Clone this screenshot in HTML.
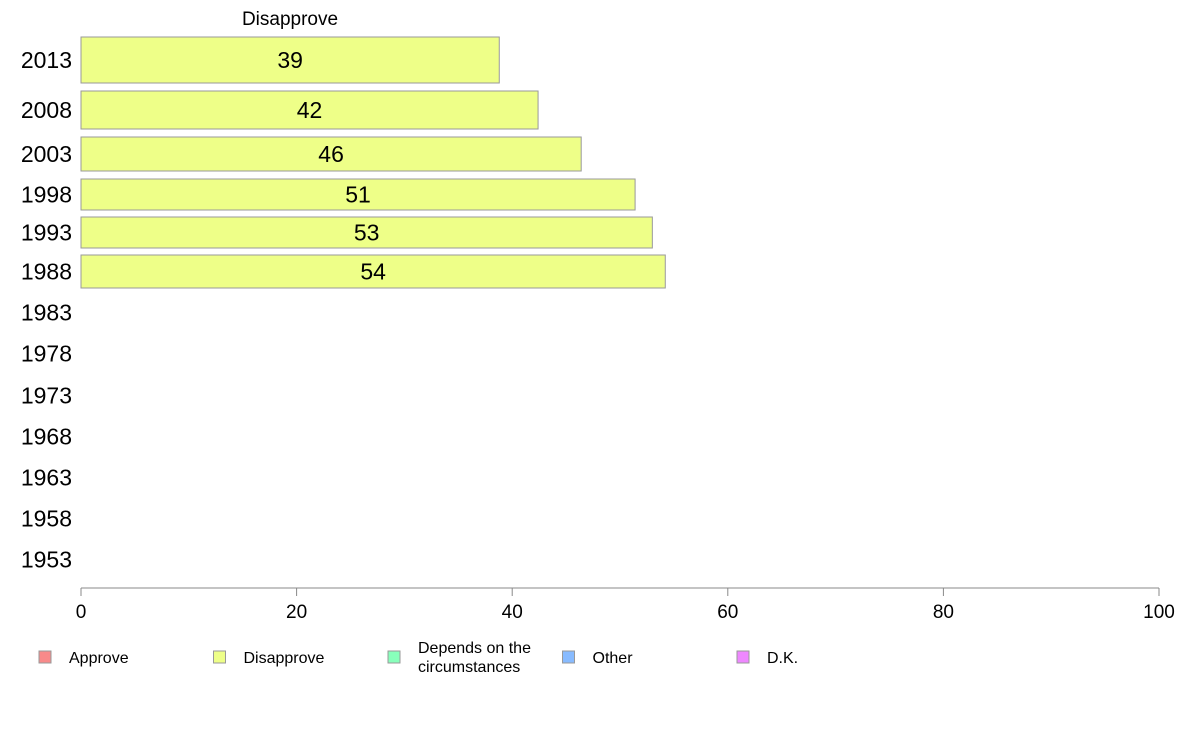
<!DOCTYPE html>
<html><head><meta charset="utf-8"><style>
body{margin:0;background:#fff;}
svg text{font-family:"Liberation Sans",sans-serif;}
</style></head><body>
<svg width="1188" height="736" id="c">
<text x="290" y="25" font-size="19" text-anchor="middle">Disapprove</text>
<g id="rows"></g>
<g id="axis"></g>
<g id="legend"></g>
</svg>
<script>
const years=["2013","2008","2003","1998","1993","1988","1983","1978","1973","1968","1963","1958","1953"];
const disapprove=[38.8,42.4,46.4,51.4,53.0,54.2,null,null,null,null,null,null,null];
const valueLabels=["39","42","46","51","53","54"];
const ticks=[0,20,40,60,80,100];
const legendLabels=[["Approve"],["Disapprove"],["Depends on the","circumstances"],["Other"],["D.K."]];
const legendColors=["#f88a8a","#eeff88","#88ffbb","#88bbff","#ee88ff"];
// layout (not data)
const rowTop=[37,91,137,179,217,255,296,337,379,420,461,502,543];
const rowH=[46,38,34,31,31,33,33,33,33,33,33,33,33];
const x0=81,x1=1159;
const X=v=>x0+(x1-x0)*v/100;
const NS="http://www.w3.org/2000/svg";
function mk(t,a,p){const e=document.createElementNS(NS,t);for(const k in a)e.setAttribute(k,a[k]);p.appendChild(e);return e;}
const rows=document.getElementById('rows');
years.forEach((y,i)=>{
  const cy=rowTop[i]+rowH[i]/2;
  const t=mk('text',{x:72,y:cy+8,'font-size':23,'text-anchor':'end'},rows);t.textContent=y;
  
  
  const v=disapprove[i];
  if(v!=null){
    const r=mk('rect',{x:X(0),y:rowTop[i],width:X(v)-X(0),height:rowH[i],fill:'#eeff88',stroke:'#999','stroke-width':1},rows);
    
    
    const l=mk('text',{x:(X(0)+X(v))/2,y:cy+8,'font-size':23,'text-anchor':'middle'},rows);l.textContent=valueLabels[i];
    
    
  }
});
const ax=document.getElementById('axis');
mk('line',{x1:x0,x2:x1,y1:588,y2:588,stroke:'#888'},ax);
ticks.forEach(t=>{
  mk('line',{x1:X(t),x2:X(t),y1:588,y2:596,stroke:'#888'},ax);
  const e=mk('text',{x:X(t),y:618,'font-size':19,'text-anchor':'middle'},ax);e.textContent=t;
  
  
});
const lg=document.getElementById('legend');
legendLabels.forEach((lab,i)=>{
  const bx=39+i*174.5;
  const s=mk('rect',{x:bx,y:651,width:12,height:12,fill:legendColors[i],stroke:'#999'},lg);
  
  
  const t=mk('text',{x:bx+30,y:lab.length>1?653:663,'font-size':16},lg);
  
  
  lab.forEach((ln,j)=>{const ts=mk('tspan',{x:bx+30,dy:j?19:0},t);ts.textContent=ln;});
});
</script>
</body></html>
